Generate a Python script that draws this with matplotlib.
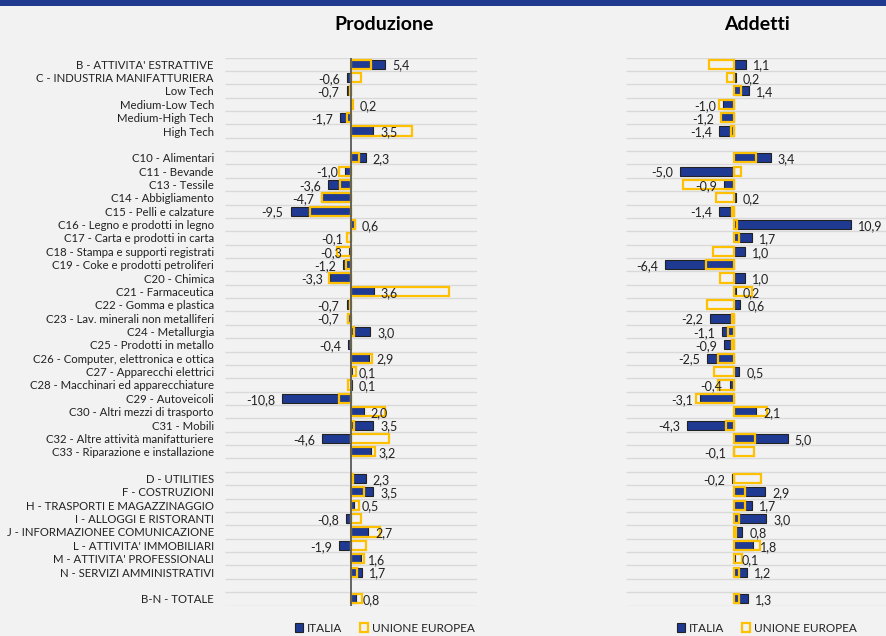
import numpy as np
import matplotlib.pyplot as plt
from matplotlib.patches import Patch

# categories (None = empty spacer row)
categorie = ["B - ATTIVITA' ESTRATTIVE", "C - INDUSTRIA MANIFATTURIERA", "Low Tech",
             "Medium-Low Tech", "Medium-High Tech", "High Tech", None,
             "C10 - Alimentari", "C11 - Bevande", "C13 - Tessile", "C14 - Abbigliamento",
             "C15 - Pelli e calzature", "C16 - Legno e prodotti in legno",
             "C17 - Carta e prodotti in carta", "C18 - Stampa e supporti registrati",
             "C19 - Coke e prodotti petroliferi", "C20 - Chimica", "C21 - Farmaceutica",
             "C22 - Gomma e plastica", "C23 - Lav. minerali non metalliferi",
             "C24 - Metallurgia", "C25 - Prodotti in metallo",
             "C26 - Computer, elettronica e ottica", "C27 - Apparecchi elettrici",
             "C28 - Macchinari ed apparecchiature", "C29 - Autoveicoli",
             "C30 - Altri mezzi di trasporto", "C31 - Mobili",
             "C32 - Altre attività manifatturiere", "C33 - Riparazione e installazione", None,
             "D - UTILITIES", "F - COSTRUZIONI", "H - TRASPORTI E MAGAZZINAGGIO",
             "I - ALLOGGI E RISTORANTI", "J - INFORMAZIONEE COMUNICAZIONE",
             "L - ATTIVITA' IMMOBILIARI", "M - ATTIVITA' PROFESSIONALI",
             "N - SERVIZI AMMINISTRATIVI", None, "B-N - TOTALE"]

prod_italia = [5.4, -0.6, -0.7, 0.2, -1.7, 3.5, None,
               2.3, -1.0, -3.6, -4.7, -9.5, 0.6, -0.1, -0.3, -1.2, -3.3, 3.6,
               -0.7, -0.7, 3.0, -0.4, 2.9, 0.1, 0.1, -10.8, 2.0, 3.5, -4.6, 3.2, None,
               2.3, 3.5, 0.5, -0.8, 2.7, -1.9, 1.6, 1.7, None, 0.8]
prod_ue = [3.2, 1.6, -0.2, 0.3, -0.6, 9.6, None,
           1.3, -1.9, -1.7, -4.6, -6.4, 0.7, -0.6, -2.2, -0.8, -3.4, 15.4,
           -0.1, -0.5, 0.4, 0.0, 3.3, 0.8, -0.5, -1.9, 5.3, 0.5, 5.9, 3.7, None,
           0.3, 2.1, 1.3, 1.6, 4.5, 2.4, 2.1, 0.9, None, 1.8]

add_italia = [1.1, 0.2, 1.4, -1.0, -1.2, -1.4, None,
              3.4, -5.0, -0.9, 0.2, -1.4, 10.9, 1.7, 1.0, -6.4, 1.0, 0.2,
              0.6, -2.2, -1.1, -0.9, -2.5, 0.5, -0.4, -3.1, 2.1, -4.3, 5.0, -0.1, None,
              -0.2, 2.9, 1.7, 3.0, 0.8, 1.8, 0.1, 1.2, None, 1.3]
add_ue = [-2.3, -0.6, 0.7, -1.4, -1.2, -0.3, None,
          2.1, 0.7, -4.7, -1.7, -0.2, 0.3, 0.5, -1.9, -2.6, -1.3, 1.7,
          -2.5, -0.2, -0.5, -0.2, -1.5, -1.8, -1.5, -3.5, 3.1, -0.7, 2.0, 1.9, None,
          2.5, 1.0, 1.0, 0.5, 0.2, 2.4, 0.8, 0.5, None, 0.5]

BLU = '#1F3A93'
GIALLO = '#FFC000'
SFONDO = '#F2F2F2'
plt.rcParams['font.family'] = ['Lato', 'DejaVu Sans']

W, H = 887, 636
fig = plt.figure(figsize=(W / 100, H / 100), dpi=100, facecolor=SFONDO)

# top banner
fig.add_artist(plt.Rectangle((0, 1 - 6 / H), 1, 6 / H, transform=fig.transFigure,
                             color='#1F3A8F', lw=0))

n = len(categorie)
y = np.arange(n)
righe = [i for i in range(n) if categorie[i] is not None]


def pannello(x0, x1, xlim, italia, ue, zero_line, labels):
    ax = fig.add_axes([x0 / W, (H - 605.5) / H, (x1 - x0) / W, 548 / H])
    ax.set_facecolor('none')
    ax.set_xlim(*xlim)
    ax.set_ylim(n - 0.5, -0.5)
    ax.hlines(np.arange(n + 1) - 0.5, xlim[0], xlim[1], color='#D9D9D9', lw=1, zorder=0)
    it = [italia[i] for i in righe]
    eu = [ue[i] for i in righe]
    ax.barh(righe, it, height=0.68, color=BLU, edgecolor='#222222', lw=0.8, zorder=2)
    ax.barh(righe, eu, height=0.68, fill=False, edgecolor=GIALLO, lw=1.6, zorder=3)
    if zero_line:
        ax.axvline(0, color='#595959', lw=1.3, zorder=4)
    for r, v in zip(righe, it):
        txt = f"{v:.1f}".replace('.', ',')
        ax.annotate(txt, (v, r), xytext=(5 if v >= 0 else -5, -1), textcoords='offset points',
                    ha='left' if v >= 0 else 'right', va='center', fontsize=9,
                    color='#222222', zorder=5)
    for s in ax.spines.values():
        s.set_visible(False)
    ax.set_xticks([])
    if labels:
        ax.set_yticks(righe)
        ax.set_yticklabels([categorie[i] for i in righe], fontsize=8.2, color='#222222')
        ax.tick_params(axis='y', length=0, pad=8)
    else:
        ax.set_yticks([])
    return ax


ax1 = pannello(225, 477, (-19.8, 19.8), prod_italia, prod_ue, True, True)
ax2 = pannello(626, 887, (-10.0, 14.2), add_italia, add_ue, False, False)

fig.text(384 / W, 1 - 25 / H, 'Produzione', ha='center', va='center', fontsize=14,
         fontweight='bold', color='black')
fig.text(757 / W, 1 - 25 / H, 'Addetti', ha='center', va='center', fontsize=14,
         fontweight='bold', color='black')

maniglie = [Patch(facecolor=BLU, edgecolor='#222222', lw=0.8, label='ITALIA'),
            Patch(facecolor='none', edgecolor=GIALLO, lw=1.6, label='UNIONE EUROPEA')]
for cx in (385, 767):
    fig.legend(handles=maniglie, loc='center', bbox_to_anchor=(cx / W, 1 - 628 / H), ncol=2,
               frameon=False, fontsize=8.5, handlelength=0.7, handleheight=0.7,
               handletextpad=0.3, columnspacing=1.5, labelcolor='#222222')

fig.savefig('out.png', dpi=100, facecolor=SFONDO)
